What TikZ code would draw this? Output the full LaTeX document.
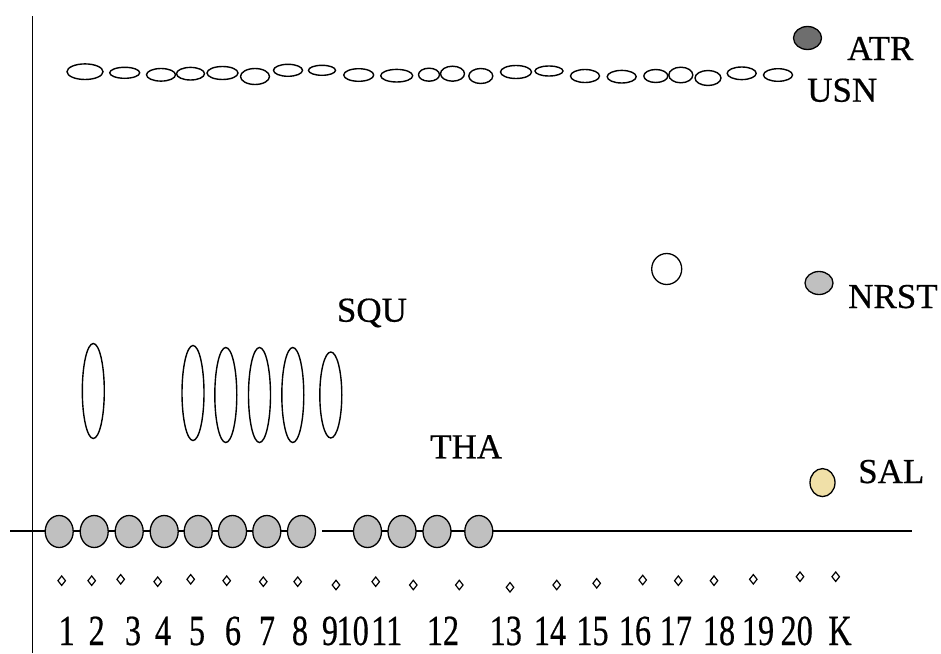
\documentclass[tikz,border=0pt]{standalone}
\usepackage{fontspec}
\usepackage{graphicx}
\setmainfont{Liberation Serif}[FakeBold=0.5]
\usetikzlibrary{shapes.geometric}
\definecolor{darkdot}{HTML}{6E6E6E}
\definecolor{greydot}{HTML}{C0C0C0}
\definecolor{sanddot}{HTML}{F0E0A8}
\begin{document}
\begin{tikzpicture}[x=1pt,y=-1pt,
  bead/.style={ellipse, draw, line width=1.4pt, inner sep=0pt},
  ball/.style={ellipse, draw, line width=1.3pt, fill=#1, inner sep=0pt},
  tick/.style={diamond, draw, line width=1.2pt, inner sep=0pt, minimum width=8pt, minimum height=10pt},
  lbl/.style={anchor=base west, inner sep=0pt, font=\fontsize{35}{35}\selectfont},
  num/.style={anchor=base, inner sep=0pt, font=\fontsize{43}{43}\selectfont},
  axis/.style={line width=1.8pt}]
\useasboundingbox[fill=white] (0,0) rectangle (941,653);

% axes
\coordinate (ytop) at (32.5,16);
\coordinate (ybot) at (32.5,653);
\coordinate (xl) at (10,530.7);
\coordinate (xm1) at (316,530.7);
\coordinate (xm2) at (322,530.7);
\coordinate (xr) at (911.7,530.7);
\draw[axis] (ytop) -- (ybot);
\draw[axis] (xl) -- (xm1);
\draw[axis] (xm2) -- (xr);

% upper row of flat rings
\foreach \cx/\cy/\a/\b [count=\i] in {
  85/71.7/18/7.8, 124.7/72.8/15/5.5, 161/74.8/14.5/6.3, 190.5/73.7/14/6.3,
  222.5/73/15.5/6.5, 255/76.5/14.5/8, 288/70.3/14.5/6, 322/70.3/13.5/5,
  358.7/75/15/6.3, 396.7/75.7/16/6.3, 429/74.7/10.5/6.5, 452.5/73.7/12/7.5,
  480.8/76/12/7.5, 516/72/15.5/6.5, 549/71/14/5, 585/76/14.5/6.5,
  621.7/76.7/14.5/6.3, 655.8/76/12/6.5, 680.8/75/12/7.8, 708/78/13/7.5,
  741.7/73.3/14.5/6.3, 778/75/14.5/6.3}
  \node[bead, minimum width={2*\a pt}, minimum height={2*\b pt}] (usn\i) at (\cx,\cy) {};

% tall rings
\foreach \cx/\cy/\b [count=\i] in {
  93.3/391/47.5, 193/393/47.5, 225.8/395/47.5, 259.5/395/47.5,
  292.8/395/47.5, 330.8/395/43}
  \node[bead, minimum width=22pt, minimum height={2*\b pt}] (squ\i) at (\cx,\cy) {};

% filled discs on the axis
\foreach \cx [count=\i] in {59.2,94.2,129.2,164.2,198.2,232.5,266.8,301.5,367.5,402,437,478.8}
  \node[ball=greydot, minimum width=28pt, minimum height=32pt] (tha\i) at (\cx,531.5) {};

% single markers
\node[ball=darkdot, minimum width=28pt, minimum height=23pt] (atr) at (807.5,38) {};
\node[ball=greydot, minimum width=28pt, minimum height=23pt] (nrst) at (819,283) {};
\node[ball=white, minimum width=30pt, minimum height=31pt] (open) at (666.7,269) {};
\node[ball=sanddot, minimum width=25pt, minimum height=28pt] (sal) at (822.5,482.6) {};

% labels
\node[lbl] (tATR) at (847,60) {ATR};
\node[lbl] (tUSN) at (807,101.7) {USN};
\node[lbl] (tNRST) at (848,308) {NRST};
\node[lbl] (tSAL) at (858,483) {SAL};
\node[lbl] (tSQU) at (336.7,321.7) {SQU};
\node[lbl] (tTHA) at (430,458.3) {THA};

% small diamonds
\foreach \cx/\cy [count=\i] in {
  61.7/580.7, 91.7/580.7, 120.7/579.3, 157.7/581.7, 190.7/579.3,
  226.7/580.7, 263.3/581.7, 297.7/581.7, 336/585, 375.7/581.7,
  413.3/585, 459.3/585, 510/587.3, 556.7/585, 596.7/583.3,
  642.7/580, 678.3/580.7, 714/580.7, 753.3/579.3, 800/576.7, 835.7/576.7}
  \node[tick] (d\i) at (\cx,\cy) {};

% numbering along the bottom
\foreach \cx/\t [count=\i] in {
  66.7/1, 96.7/2, 133/3, 163/4, 197/5, 233/6, 267/7, 300/8, 330/9,
  352.7/10, 386.7/11, 443/12, 505.8/13, 550/14, 592.5/15, 635/16,
  675.8/17, 719/18, 758/19, 796.7/20, 840/K}
  \node[num] (n\i) at (\cx,645) {\scalebox{0.75}[1]{\t}};
\end{tikzpicture}
\end{document}
